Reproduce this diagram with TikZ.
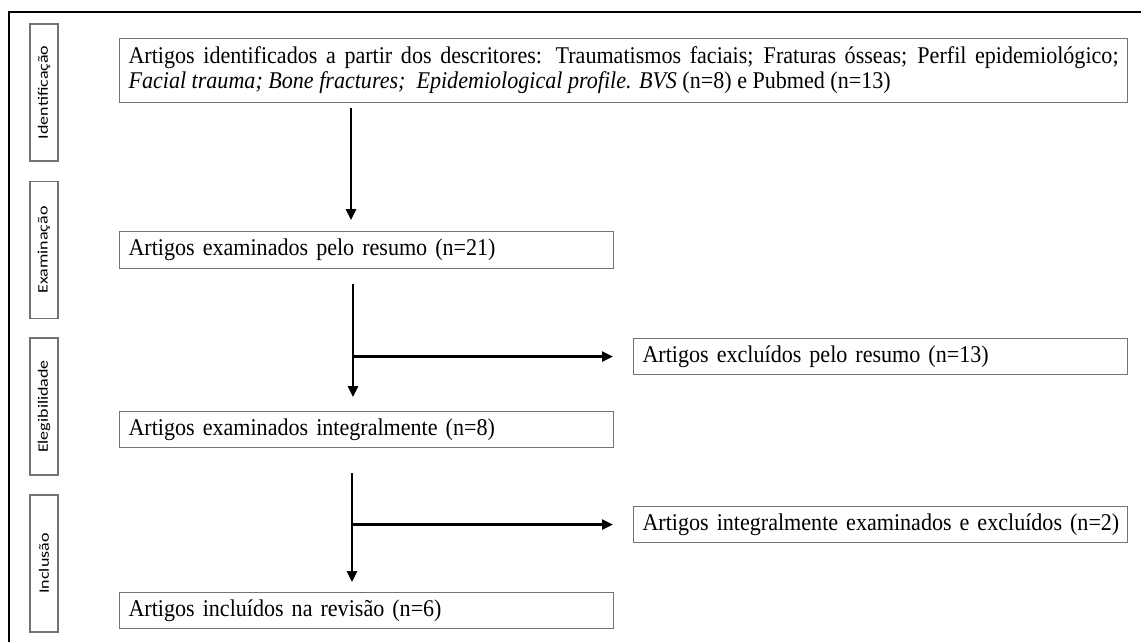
\documentclass[tikz,border=0pt]{standalone}
\usepackage{fontspec}
\setmainfont{Liberation Serif}[FakeStretch=0.92]
\newfontfamily\stagefont{Carlito}
\newcommand\boxfont{\fontsize{24}{25}\selectfont}
\newcommand\stfont{\stagefont\fontsize{18}{20}\selectfont}
\newcommand\oneline[1]{\makebox[476pt][l]{#1}}
\usetikzlibrary{arrows.meta,calc}
\begin{document}
\begin{tikzpicture}[x=1pt,y=-1pt,
  box/.style={draw=black!55,line width=1.1pt,rectangle,inner xsep=9pt,inner ysep=0pt,
    align=left,font=\boxfont,anchor=north west},
  stagebox/.style={draw=black!55,line width=1.1pt,rectangle,rotate=90,inner sep=0pt,
    minimum width=137pt,minimum height=28pt,font=\stfont},
  arr/.style={line width=2.5pt,-{Triangle[length=11pt,width=10pt]}}]
\useasboundingbox (0,0) rectangle (1141,642);
% outer frame
\draw[line width=2pt] (9,650) -- (9,12) -- (1150,12);
% stage labels
\node[stagebox] (s1) at (44,92.5) {\scalebox{1}[0.8]{Identificação}};
\node[stagebox] (s2) at (44,250) {\scalebox{1}[0.8]{Examinação}};
\node[stagebox] (s3) at (44,406.5) {\scalebox{1}[0.8]{Elegibilidade}};
\node[stagebox] (s4) at (44,563.5) {\scalebox{1}[0.8]{Inclusão}};
% boxes
\node[box,text width=990pt,minimum height=64pt,align=justify] (b1) at (119,38)
 {\boxfont\makebox[990pt][s]{Artigos identificados a partir dos descritores: Traumatismos faciais; Fraturas ósseas; Perfil epidemiológico;}\\
 \textit{Facial trauma; Bone fractures;\ \ Epidemiological profile. BVS} (n=8) e Pubmed (n=13)};
\node[box,text width=476pt,minimum height=37pt] (b2) at (119,231) {\boxfont\oneline{Artigos examinados pelo resumo (n=21)}};
\node[box,text width=476pt,minimum height=36pt] (b3) at (633,338) {\boxfont\oneline{Artigos excluídos pelo resumo (n=13)}};
\node[box,text width=476pt,minimum height=36pt] (b4) at (119,411) {\boxfont\oneline{Artigos examinados integralmente (n=8)}};
\node[box,text width=476pt,minimum height=36pt] (b5) at (633,506) {\boxfont\oneline{Artigos integralmente examinados e excluídos (n=2)}};
\node[box,text width=476pt,minimum height=36pt] (b6) at (119,592) {\boxfont\oneline{Artigos incluídos na revisão (n=6)}};
% connectors
\coordinate (a1s) at ($(b1.south west)+(232,5)$);
\coordinate (a1e) at ($(b2.north west)+(232,-11)$);
\draw[arr] (a1s) -- (a1e);
\coordinate (a2s) at ($(b2.south west)+(234,15)$);
\coordinate (a2e) at ($(b4.north west)+(234,-14)$);
\draw[arr] (a2s) -- (a2e);
\coordinate (j2) at (a2s |- b3.west);
\draw[arr] (j2) -- ($(b3.west)+(-20,0)$);
\coordinate (a3s) at ($(b4.south west)+(233,25)$);
\coordinate (a3e) at ($(b6.north west)+(233,-10)$);
\draw[arr] (a3s) -- (a3e);
\coordinate (j3) at (a3s |- b5.west);
\draw[arr] (j3) -- ($(b5.west)+(-20,0)$);
\end{tikzpicture}
\end{document}
